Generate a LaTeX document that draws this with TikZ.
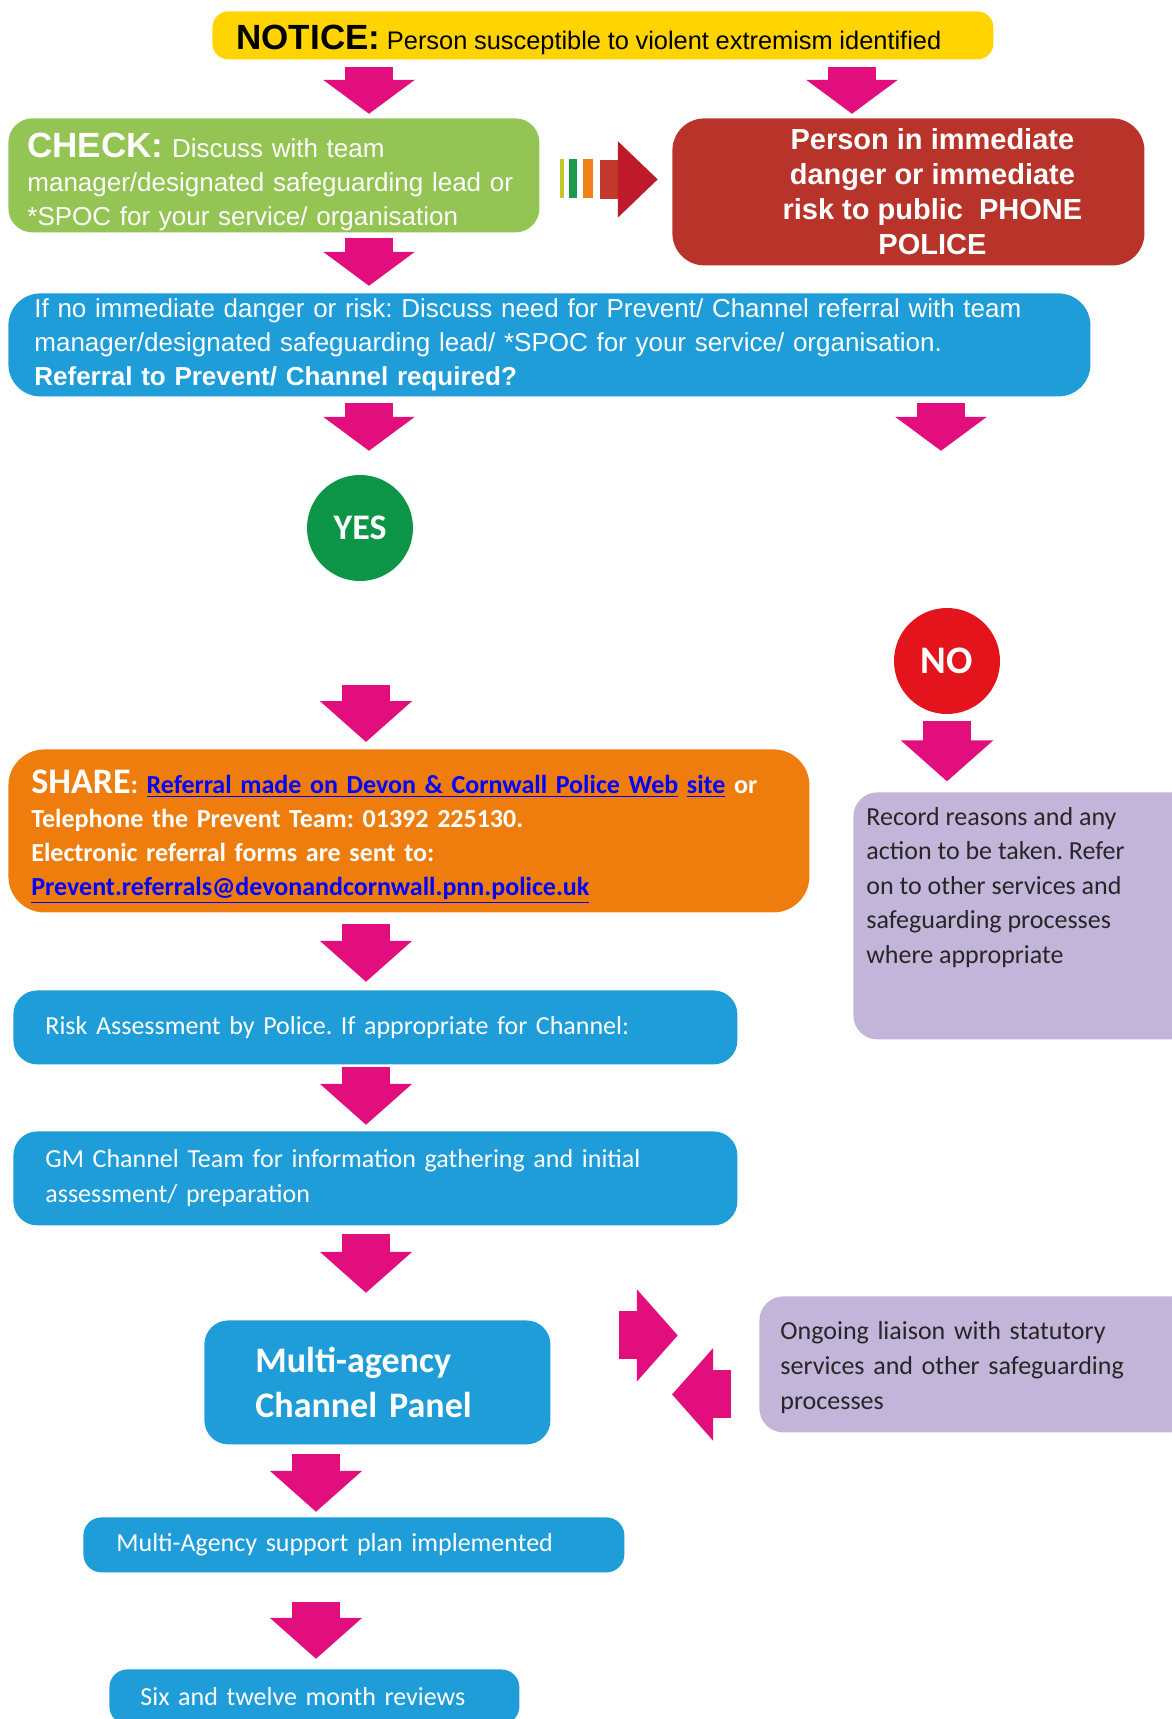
\documentclass[tikz,border=0pt]{standalone}
\usepackage{fontspec}
\setmainfont{Carlito}
\newfontfamily\arialfont{Liberation Sans}
\usetikzlibrary{arrows.meta,positioning}

\definecolor{noticeyellow}{HTML}{FFD400}
\definecolor{checkgreen}{HTML}{93C454}
\definecolor{dangerred}{HTML}{B8342A}
\definecolor{channelblue}{HTML}{1E9DD8}
\definecolor{yesgreen}{HTML}{0C9447}
\definecolor{nored}{HTML}{E3141C}
\definecolor{shareorange}{HTML}{EE7D0E}
\definecolor{liaisonlilac}{HTML}{C2B5D9}
\definecolor{flowpink}{HTML}{E20E7D}
\definecolor{linkblue}{HTML}{0000FF}
\definecolor{barlime}{HTML}{C5C62B}
\definecolor{bargreen}{HTML}{1B9A4B}
\definecolor{barorange}{HTML}{F0801A}
\definecolor{barbrick}{HTML}{C0392C}
\definecolor{headred}{HTML}{BE1A2A}
\definecolor{textgrey}{HTML}{262626}

\begin{document}
\frenchspacing
\begin{tikzpicture}[x=0.5pt,y=-0.5pt,
    box/.style={rounded corners=12pt, anchor=north west, inner ysep=0pt, align=left, text=white},
    headfont/.style={font=\arialfont\fontsize{13}{17}\selectfont},
    bodyfont/.style={font=\fontsize{13}{17}\selectfont},
    answer/.style={circle, minimum size=53pt, inner sep=0pt, text=white, font=\bfseries\fontsize{18}{20}\selectfont},
    flow/.style={draw=flowpink, line width=24pt, -{Triangle[length=20.5pt,width=45pt]}},
    flowshort/.style={flow, -{Triangle[length=17pt,width=45pt]}}]

      \useasboundingbox (0,0) rectangle (1172,1719);

      %% columns of the pink arrows
      \coordinate (colA) at (369,0);
      \coordinate (colB) at (852,0);
      \coordinate (colC) at (941,0);
      \coordinate (colD) at (366,0);
      \coordinate (colE) at (316,0);

      %% Notice, check and danger
      \node[box, fill=noticeyellow, text=black, rounded corners=8pt, minimum width=390.5pt, minimum height=24pt,
            inner xsep=12pt, text width=366.5pt] (notice) at (212,11)
            {\rule{0pt}{17pt}{\arialfont\bfseries\fontsize{17.5}{20}\selectfont NOTICE:} {\arialfont\fontsize{12.7}{15}\selectfont Person susceptible to violent extremism identified}};

      \node[box, fill=checkgreen, headfont, minimum width=265.5pt, minimum height=57pt,
            inner xsep=9.5pt, text width=246.5pt] (check) at (8,118)
            {\rule{0pt}{19pt}{\bfseries\fontsize{17.5}{17}\selectfont CHECK:} Discuss with team\\manager/designated safeguarding lead or\\{}*SPOC for your service/ organisation};

      \node[box, fill=dangerred, rounded corners=16pt, minimum width=236pt, minimum height=73.5pt] (danger) at (672,118) {};
      \node[align=center, text=white, font=\arialfont\bfseries\fontsize{14.5}{17.5}\selectfont] (dangertext)
            at ([xshift=12pt]danger.center) {Person in immediate\\danger or immediate\\risk to public\ \ PHONE\\POLICE};

      \draw[flowshort] (notice.south -| colA) ++(0,7) -- ++(0,47);
      \draw[flowshort] (notice.south -| colB) ++(0,7) -- ++(0,47);

      %% striped arrow to danger
      \fill[barlime]   (560,159) rectangle (564,198);
      \fill[bargreen]  (569,159) rectangle (577,198);
      \fill[barorange] (583,159) rectangle (593,198);
      \draw[draw=barbrick, line width=19.5pt, -{Triangle[length=20pt,width=37pt,color=headred]}]
            ([xshift=30pt,yshift=-2pt]check.east) -- ++(58,0);

      %% Discuss referral
      \node[box, fill=channelblue, headfont, rounded corners=16pt, minimum width=541pt, minimum height=51.5pt,
            inner xsep=13pt, text width=515pt] (discuss) at (8,293)
            {If no immediate danger or risk: Discuss need for Prevent/ Channel referral with team\\manager/designated safeguarding lead/ *SPOC for your service/ organisation.\\\textbf{Referral to Prevent/ Channel required?}};

      \draw[flowshort] (check.south -| colA) ++(0,5) -- ++(0,48);
      \draw[flowshort] (discuss.south -| colA) ++(0,6) -- ++(0,48);
      \draw[flowshort] (discuss.south -| colC) ++(0,6) -- ++(0,48);

      \node[answer, fill=yesgreen] (yes) at (360,528) {YES};
      \node[answer, fill=nored, font=\bfseries\fontsize{19.5}{20}\selectfont] (no) at (947,661) {NO};

      %% YES branch
      \node[box, fill=shareorange, font=\bfseries\fontsize{13}{17}\selectfont, rounded corners=18pt,
            minimum width=400.5pt, minimum height=81.5pt, inner xsep=11.5pt, text width=377.5pt] (share) at (8,749)
            {\rule{0pt}{18pt}{\fontsize{18}{17}\selectfont SHARE}: \textcolor{linkblue}{\underline{Referral made on Devon \& Cornwall Police Web} \underline{site}} or\\Telephone the Prevent Team: 01392 225130.\\Electronic referral forms are sent to:\\\textcolor{linkblue}{\underline{Prevent.referrals@devonandcornwall.pnn.police.uk}}};

      \node[box, fill=channelblue, bodyfont, minimum width=362pt, minimum height=37pt,
            inner xsep=16pt, text width=330pt] (risk) at (13,990)
            {Risk Assessment by Police. If appropriate for Channel:};

      \node[box, fill=channelblue, font=\fontsize{13}{17.5}\selectfont, minimum width=362pt, minimum height=47pt,
            inner xsep=16pt, text width=330pt] (gm) at (13,1131)
            {GM Channel Team for information gathering and initial\\assessment/ preparation};

      \node[box, fill=channelblue, font=\bfseries\fontsize{18}{22.5}\selectfont, minimum width=173pt, minimum height=62pt,
            inner xsep=25.5pt, text width=122pt] (panel) at (204,1320)
            {Multi-agency\\Channel Panel};

      \node[box, fill=channelblue, bodyfont, rounded corners=9pt, minimum width=270.5pt, minimum height=27.5pt,
            inner xsep=16.5pt, text width=237.5pt] (support) at (83,1517)
            {Multi-Agency support plan implemented};

      \node[box, fill=channelblue, bodyfont, rounded corners=9pt, minimum width=205pt, minimum height=27.5pt,
            inner xsep=15.5pt, text width=174pt] (reviews) at (109,1669)
            {Six and twelve month reviews};

      \draw[flow] (share.north -| colD) ++(0,-64) -- ++(0,57);
      \draw[flow] (share.south -| colD) ++(0,11) -- ++(0,58);
      \draw[flow] (risk.south -| colD) ++(0,2) -- ++(0,58);
      \draw[flow] (gm.south -| colD) ++(0,8) -- ++(0,59);
      \draw[flow] (panel.south -| colE) ++(0,9) -- ++(0,58);
      \draw[flow] (support.south -| colE) ++(0,29) -- ++(0,57);

      %% NO branch
      \node[box, fill=liaisonlilac, minimum width=173.5pt, minimum height=123.5pt] (record) at (853,792) {};
      \node[anchor=north west, inner sep=0pt, align=left, text=textgrey, font=\fontsize{13}{17.25}\selectfont] (recordtext)
            at (866,807) {Record reasons and any\\action to be taken. Refer\\on to other services and\\safeguarding processes\\where appropriate};

      \draw[flow] (no.south) ++(0,7) -- ++(0,60);

      %% liaison beside the panel
      \node[box, fill=liaisonlilac, text=textgrey, font=\fontsize{13}{17.5}\selectfont, minimum width=220.5pt, minimum height=68pt,
            inner xsep=10.5pt, text width=199.5pt] (ongoing) at (759,1296)
            {\rule{0pt}{12.5pt}Ongoing liaison with statutory\\services and other safeguarding\\processes};

      \draw[flow] ([xshift=34pt,yshift=23.5pt]panel.east) -- ++(59,0);
      \draw[flow] ([xshift=-14pt,yshift=-15pt]ongoing.west) -- ++(-59,0);
    \end{tikzpicture}
\end{document}
